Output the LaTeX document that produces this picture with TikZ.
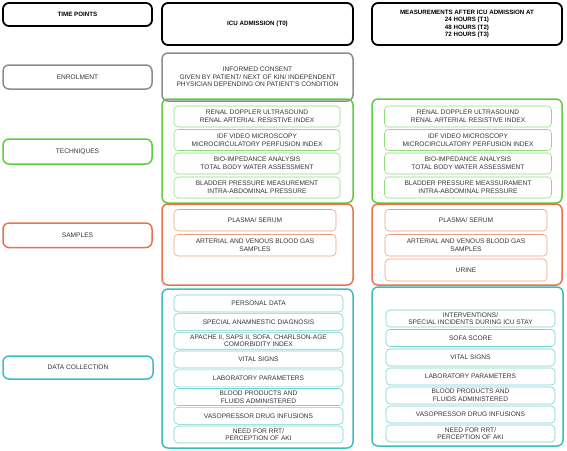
\documentclass[tikz,border=0pt]{standalone}
\usepackage{fontspec}
\setmainfont{Liberation Sans}
\definecolor{cgreen}{HTML}{5FCB3F}
\definecolor{corange}{HTML}{E8734C}
\definecolor{cteal}{HTML}{3CBDC0}
\definecolor{cgray}{HTML}{8C8C8C}
\definecolor{ctext}{HTML}{333333}
\newcommand\boxnode[7]{%
  \node[#2, minimum width={(#5-#3)*1pt}, minimum height={(#6-#4)*1pt}] (#1) at ({(#3+#5)/2},{(#4+#6)/2}) {#7};}
\begin{document}
\begin{tikzpicture}[x=1pt,y=-1pt,
  base/.style={rectangle, rounded corners=5pt, inner sep=0pt, align=center, text=ctext,
    font=\fontsize{6.6}{7.6}\selectfont},
  head/.style={base, draw=black, line width=1.8pt, rounded corners=6pt, font=\fontsize{6.2}{7.4}\selectfont\bfseries, text=black},
  outer/.style={base, draw=#1, line width=1.5pt, rounded corners=6pt},
  inner/.style={base, draw=#1!70, line width=0.6pt, rounded corners=4pt},
]
\useasboundingbox (0,0) rectangle (567,450);
% headers
\boxnode{tp}{head}{3}{3}{152}{26}{TIME POINTS}
\boxnode{icu}{head}{162}{3}{353}{45}{ICU ADMISSION (T0)}
\boxnode{meas}{head}{372}{3}{562}{45}{MEASUREMENTS AFTER ICU ADMISSION AT\\24 HOURS (T1)\\48 HOURS (T2)\\72 HOURS (T3)}
% enrolment
\boxnode{enr}{outer=cgray}{3}{65}{152}{89}{ENROLMENT}
\boxnode{cons}{outer=cgray}{162}{53}{353}{101}{INFORMED CONSENT\\GIVEN BY PATIENT/ NEXT OF KIN/ INDEPENDENT\\PHYSICIAN DEPENDING ON PATIENT'S CONDITION}
% techniques
\boxnode{tech}{outer=cgreen}{3}{139}{152}{164}{TECHNIQUES}
\boxnode{techL}{outer=cgreen}{162}{99}{353}{203}{}
\boxnode{techR}{outer=cgreen}{372}{99}{562}{203}{}
\boxnode{tl1}{inner=cgreen}{174}{106}{340}{127}{RENAL DOPPLER ULTRASOUND\\RENAL ARTERIAL RESISTIVE INDEX}
\boxnode{tl2}{inner=cgreen}{174}{129.5}{340}{150.5}{IDF VIDEO MICROSCOPY\\MICROCIRCULATORY PERFUSION INDEX}
\boxnode{tl3}{inner=cgreen}{174}{153}{340}{174}{BIO-IMPEDANCE ANALYSIS\\TOTAL BODY WATER ASSESSMENT}
\boxnode{tl4}{inner=cgreen}{174}{177}{340}{198}{BLADDER PRESSURE MEASUREMENT\\INTRA-ABDOMINAL PRESSURE}
\boxnode{tr1}{inner=cgreen}{384.5}{106}{551.5}{127}{RENAL DOPPLER ULTRASOUND\\RENAL ARTERIAL RESISTIVE INDEX}
\boxnode{tr2}{inner=cgreen}{384.5}{129.5}{551.5}{150.5}{IDF VIDEO MICROSCOPY\\MICROCIRCULATORY PERFUSION INDEX}
\boxnode{tr3}{inner=cgreen}{384.5}{153}{551.5}{174}{BIO-IMPEDANCE ANALYSIS\\TOTAL BODY WATER ASSESSMENT}
\boxnode{tr4}{inner=cgreen}{384.5}{177}{551.5}{198}{BLADDER PRESSURE MEASSURAMENT\\INTRA-ABDOMINAL PRESSURE}
% samples
\boxnode{samp}{outer=corange}{3}{223}{152}{247.5}{SAMPLES}
\boxnode{sampL}{outer=corange}{162}{204}{353}{285}{}
\boxnode{sampR}{outer=corange}{372}{204}{562}{285}{}
\boxnode{sl1}{inner=corange}{174}{209.5}{336}{231}{PLASMA/ SERUM}
\boxnode{sl2}{inner=corange}{174}{234.5}{336}{256}{ARTERIAL AND VENOUS BLOOD GAS\\SAMPLES}
\boxnode{sr1}{inner=corange}{385}{209.5}{547}{231}{PLASMA/ SERUM}
\boxnode{sr2}{inner=corange}{385}{234.5}{547}{256}{ARTERIAL AND VENOUS BLOOD GAS\\SAMPLES}
\boxnode{sr3}{inner=corange}{385}{259}{547}{281}{URINE}
% data collection
\boxnode{dc}{outer=cteal}{3}{356}{153}{379}{DATA COLLECTION}
\boxnode{dcL}{outer=cteal}{162}{289}{353}{448}{}
\boxnode{dcR}{outer=cteal}{372}{287}{563}{446}{}
\boxnode{dl1}{inner=cteal}{174}{295}{343}{312}{PERSONAL DATA}
\boxnode{dl2}{inner=cteal}{174}{313.6}{343}{330.6}{SPECIAL ANAMNESTIC DIAGNOSIS}
\boxnode{dl3}{inner=cteal}{174}{332.2}{343}{349.2}{APACHE II, SAPS II, SOFA, CHARLSON-AGE\\COMORBIDITY INDEX}
\boxnode{dl4}{inner=cteal}{174}{351}{343}{368}{VITAL SIGNS}
\boxnode{dl5}{inner=cteal}{174}{369.8}{343}{386.8}{LABORATORY PARAMETERS}
\boxnode{dl6}{inner=cteal}{174}{388.5}{343}{405.5}{BLOOD PRODUCTS AND\\FLUIDS ADMINISTERED}
\boxnode{dl7}{inner=cteal}{174}{407.3}{343}{424.3}{VASOPRESSOR DRUG INFUSIONS}
\boxnode{dl8}{inner=cteal}{174}{426}{343}{443}{NEED FOR RRT/\\PERCEPTION OF AKI}
\boxnode{dr1}{inner=cteal}{386}{310}{555}{327}{INTERVENTIONS/\\SPECIAL INCIDENTS DURING ICU STAY}
\boxnode{dr2}{inner=cteal}{386}{329.5}{555}{346.5}{SOFA SCORE}
\boxnode{dr3}{inner=cteal}{386}{349}{555}{366}{VITAL SIGNS}
\boxnode{dr4}{inner=cteal}{386}{368}{555}{385}{LABORATORY PARAMETERS}
\boxnode{dr5}{inner=cteal}{386}{387}{555}{404}{BLOOD PRODUCTS AND\\FLUIDS ADMINISTERED}
\boxnode{dr6}{inner=cteal}{386}{406}{555}{423}{VASOPRESSOR DRUG INFUSIONS}
\boxnode{dr7}{inner=cteal}{386}{425}{555}{442}{NEED FOR RRT/\\PERCEPTION OF AKI}
\end{tikzpicture}
\end{document}
